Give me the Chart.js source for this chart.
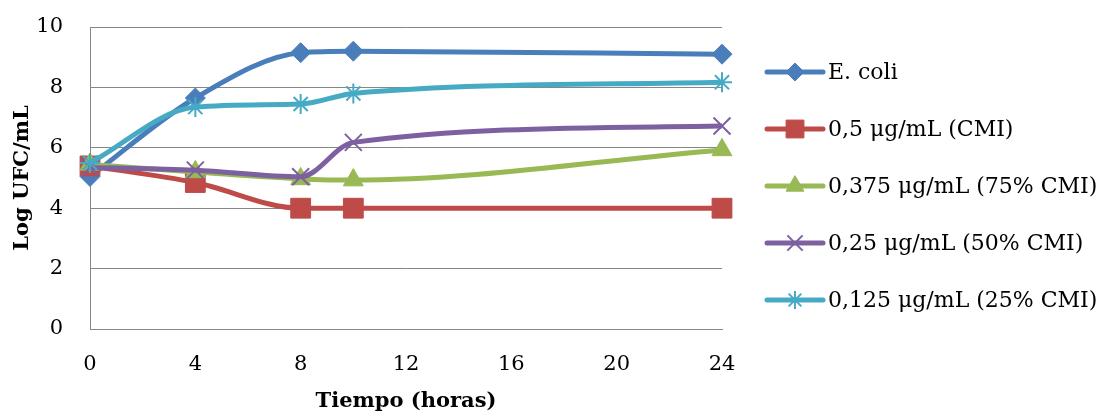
<!DOCTYPE html>
<html>
<head>
<meta charset="utf-8">
<script src="https://cdn.jsdelivr.net/npm/chart.js@4/dist/chart.umd.min.js"></script>
<style>
  html, body { margin: 0; padding: 0; background: #fff; }
  #graph { display: block; }
</style>
</head>
<body>
<canvas id="graph" width="1107" height="415"></canvas>
<script>
// datos del gráfico
var horas = [0, 4, 8, 10, 24];
var ecoli = [5.05, 7.65, 9.15, 9.2, 9.1];
var cmi100 = [5.4, 4.85, 4.0, 4.0, 4.0];
var cmi75 = [5.45, 5.2, 4.97, 4.93, 5.93];
var cmi50 = [5.35, 5.26, 5.04, 6.18, 6.72];
var cmi25 = [5.5, 7.35, 7.45, 7.8, 8.17];
var nombres = ["E. coli", "0,5 μg/mL (CMI)", "0,375 μg/mL (75% CMI)", "0,25 μg/mL (50% CMI)", "0,125 μg/mL (25% CMI)"];
var xTicks = [0, 4, 8, 12, 16, 20, 24];
var yTicks = [0, 2, 4, 6, 8, 10];

var colores = ["#4A7EBB", "#BE4B48", "#98B954", "#7D60A0", "#46AAC5"];
var estilos = ["rectRot", "rect", "triangle", "crossRot", "star"];
var radios = [10, 14, 11.5, 12, 10];
var bordes = [1, 1, 1, 2, 2];
var series = [ecoli, cmi100, cmi75, cmi50, cmi25];

var fuente = "'DejaVu Serif', serif";

function puntos(vals) {
  var r = [];
  for (let i = 0; i < horas.length; i++) r.push({x: horas[i], y: vals[i]});
  return r;
}

var datasets = [];
for (let i = 0; i < series.length; i++) {
  datasets.push({
    label: nombres[i],
    data: puntos(series[i]),
    borderColor: colores[i],
    backgroundColor: colores[i],
    borderWidth: 5,
    cubicInterpolationMode: 'monotone',
    pointStyle: estilos[i],
    pointRadius: radios[i],
    pointBorderWidth: bordes[i],
    pointBackgroundColor: colores[i],
    pointBorderColor: colores[i],
    order: series.length - i,
    clip: false
  });
}

// leyenda dibujada a mano (línea + marcador)
var leyenda = {
  id: 'leyenda',
  afterDraw: function(chart) {
    var ctx = chart.ctx;
    var x0 = 767, x1 = 823, y0 = 72, paso = 57;
    ctx.save();
    for (let i = 0; i < datasets.length; i++) {
      var y = y0 + i * paso;
      ctx.strokeStyle = colores[i];
      ctx.lineWidth = 5;
      ctx.lineCap = 'round';
      ctx.beginPath();
      ctx.moveTo(x0, y);
      ctx.lineTo(x1, y);
      ctx.stroke();
      ctx.fillStyle = colores[i];
      ctx.lineWidth = bordes[i];
      ctx.lineCap = 'butt';
      Chart.helpers.drawPoint(ctx, {pointStyle: estilos[i], radius: radios[i] * 0.9, rotation: 0, borderWidth: bordes[i]}, (x0 + x1) / 2, y);
      ctx.fillStyle = '#000';
      ctx.font = "22px " + fuente;
      ctx.textAlign = 'left';
      ctx.textBaseline = 'middle';
      ctx.fillText(nombres[i], 828, y + 1);
    }
    ctx.restore();
  }
};

var ctx = document.querySelector("#graph").getContext("2d");
var chart = new Chart(ctx, {
  type: 'line',
  data: { datasets: datasets },
  options: {
    responsive: false,
    animation: false,
    layout: { padding: { top: 27, right: 385, bottom: 0, left: 0 } },
    plugins: {
      legend: { display: false },
      tooltip: { enabled: false }
    },
    scales: {
      x: {
        type: 'linear',
        min: 0,
        max: 24,
        afterBuildTicks: function(s) { s.ticks = xTicks.map(v => ({value: v})); },
        afterFit: function(s) { s.height = 86; },
        grid: { display: false, drawTicks: false },
        border: { display: true, color: '#868686', width: 1 },
        ticks: {
          padding: 23,
          maxRotation: 0,
          color: '#000',
          font: { family: fuente, size: 21 }
        },
        title: {
          display: true,
          text: 'Tiempo (horas)',
          color: '#000',
          padding: { top: 4, bottom: 1 },
          font: { family: fuente, size: 21, weight: 'bold' }
        }
      },
      y: {
        min: 0,
        max: 10,
        afterBuildTicks: function(s) { s.ticks = yTicks.map(v => ({value: v})); },
        afterFit: function(s) { s.width = 90; s.paddingTop = 0; s.paddingBottom = 0; },
        grid: { color: '#868686', lineWidth: 1, drawTicks: false },
        border: { display: true, color: '#868686', width: 1 },
        ticks: {
          padding: 27,
          color: '#000',
          font: { family: fuente, size: 21 }
        },
        title: {
          display: true,
          text: 'Log UFC/mL',
          color: '#000',
          padding: { top: 10, bottom: 0 },
          font: { family: fuente, size: 21, weight: 'bold' }
        }
      }
    }
  },
  plugins: [leyenda]
});
</script>
</body>
</html>
